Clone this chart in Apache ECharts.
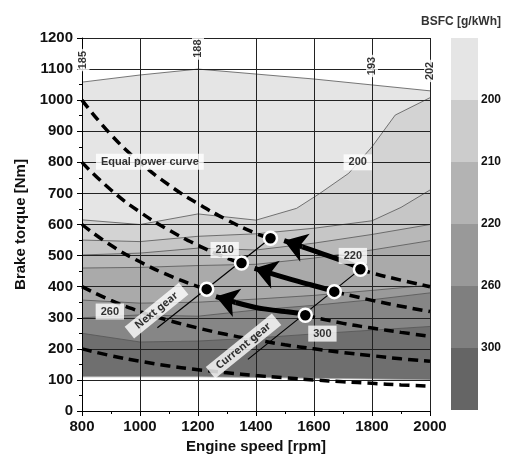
<!DOCTYPE html>
<html>
<head>
<meta charset="utf-8">
<script src="https://cdn.jsdelivr.net/npm/echarts@6/dist/echarts.min.js"></script>
<style>
  html, body { margin: 0; padding: 0; background: #fff; }
  #chart { width: 508px; height: 457px; }
</style>
</head>
<body>
<div id="chart"></div>
<script>
// contour edges of the BSFC map, [rpm, Nm]
const edgeFullLoad = [[800, 1058], [1000, 1081], [1200, 1100], [1400, 1084], [1600, 1068], [1800, 1049], [2000, 1030]];
const edge200 = [[800, 615], [1000, 600], [1200, 634], [1400, 614], [1540, 652], [1620, 700], [1720, 765], [1800, 850], [1880, 952], [2000, 1008]];
const edge205 = [[800, 550], [1000, 545], [1200, 562], [1400, 570], [1600, 588], [1800, 612], [1900, 655], [2000, 711]];
const edge210 = [[800, 502], [1000, 508], [1200, 524], [1400, 518], [1600, 540], [1800, 568], [2000, 600]];
const edge220 = [[800, 460], [1000, 462], [1200, 468], [1400, 472], [1600, 492], [1800, 518], [2000, 548]];
const edge240 = [[800, 357], [1000, 347], [1200, 350], [1400, 360], [1600, 372], [1800, 388], [2000, 405]];
const edge260 = [[800, 300], [1000, 309], [1200, 305], [1400, 325], [1600, 340], [1800, 358], [2000, 380]];
const edge300 = [[800, 250], [1000, 222], [1200, 225], [1400, 235], [1600, 248], [1800, 260], [2000, 272]];
const edgeBottom = [[800, 110], [1000, 110], [1200, 110], [1400, 108], [1600, 105], [1800, 103], [2000, 100]];
const fillColors = ["#e5e5e5", "#d3d3d3", "#c6c6c6", "#b8b8b8", "#aaaaaa", "#9a9a9a", "#868686", "#6f6f6f", "#ffffff"];

// equal power curves (dashed), split where the shift arrows run
const power1000Low = [[800, 1000], [900, 889], [1000, 800], [1100, 727], [1200, 667], [1300, 615], [1400, 571], [1450, 556]];
const power1000High = [[1760, 456], [1800, 444], [1900, 421], [2000, 400]];
const power800Low = [[800, 800], [900, 711], [1000, 640], [1100, 582], [1200, 533], [1300, 492], [1350, 476]];
const power800High = [[1670, 384], [1800, 356], [1900, 337], [2000, 320]];
const power600Low = [[800, 600], [900, 533], [1000, 480], [1100, 436], [1200, 400], [1230, 392]];
const power600High = [[1570, 308], [1700, 282], [1800, 267], [1900, 253], [2000, 240]];
const power400 = [[800, 400], [900, 356], [1000, 320], [1100, 291], [1200, 267], [1300, 246], [1400, 229], [1500, 213], [1600, 200], [1700, 188], [1800, 178], [1900, 168], [2000, 160]];
const power200 = [[800, 200], [900, 178], [1000, 160], [1100, 145], [1200, 133], [1300, 123], [1400, 114], [1500, 107], [1600, 100], [1700, 94], [1800, 89], [1900, 84], [2000, 80]];

// gear lines and operating points
const nextGearLine = [[1060, 268], [1455, 560]];
const currentGearLine = [[1372, 166], [1762, 458]];
const shiftPoints = [[1230, 392], [1350, 476], [1450, 556], [1570, 308], [1670, 384], [1760, 456]];

// shift arrows (body + last point = tip)
const arrowTop = [[1760, 460], [1690, 486], [1620, 509], [1560, 528], [1497, 548]];
const arrowMid = [[1670, 386], [1620, 398], [1573, 410], [1500, 429], [1440, 446], [1395, 459]];
const arrowLow = [[1570, 312], [1500, 320], [1440, 327], [1395, 334], [1330, 349], [1262, 368]];

const boxLabels = [
  { name: "Equal power curve", value: [1034, 802] },
  { name: "200", value: [1751, 800] },
  { name: "210", value: [1292, 518] },
  { name: "220", value: [1734, 499] },
  { name: "260", value: [896, 320] },
  { name: "300", value: [1629, 249] },
];
const gearLabels = [
  { name: "Next gear", value: [1057, 323] },
  { name: "Current gear", value: [1357, 209] },
];
const edgeLabels = [
  { name: "185", value: [805, 1129] },
  { name: "188", value: [1200, 1166] },
  { name: "193", value: [1800, 1110] },
  { name: "202", value: [2000, 1094] },
];

// colour bar
const legendColors = ["#656565", "#7f7f7f", "#999999", "#b3b3b3", "#cccccc", "#e5e5e5"];
const legendTicks = ["", "300", "260", "220", "210", "200", ""];

const FONT = "Liberation Sans, Arial, sans-serif";
const edges = [edgeFullLoad, edge200, edge205, edge210, edge220, edge240, edge260, edge300, edgeBottom];

const fillSeries = edges.map((e, i) => ({
  type: "line",
  data: e,
  showSymbol: false,
  silent: true,
  z: 1,
  lineStyle: { color: i === edges.length - 1 ? "#aaa" : "#555", width: 0.8 },
  areaStyle: { color: fillColors[i], opacity: 1, origin: "start" },
}));

const dashed = [power1000Low, power1000High, power800Low, power800High, power600Low, power600High, power400, power200].map((d) => ({
  type: "line",
  data: d,
  smooth: true,
  showSymbol: false,
  z: 6,
  lineStyle: { color: "#000", width: 3.5, type: [10, 6] },
}));

const gearSeries = [nextGearLine, currentGearLine].map((d) => ({
  type: "line",
  data: d,
  showSymbol: false,
  z: 6,
  lineStyle: { color: "#000", width: 1.2 },
}));

const arrowBodies = [arrowTop, arrowMid, arrowLow].map((d) => ({
  type: "line",
  data: d.slice(0, -1),
  smooth: true,
  showSymbol: false,
  z: 7,
  lineStyle: { color: "#000", width: 5 },
}));

const arrowHeads = {
  type: "lines",
  coordinateSystem: "cartesian2d",
  z: 7,
  symbol: ["none", "arrow"],
  symbolSize: 22,
  lineStyle: { color: "#000", width: 5, opacity: 1 },
  data: [arrowTop, arrowMid, arrowLow].map((d) => ({ coords: d.slice(-2) })),
};

const chart = echarts.init(document.getElementById("chart"), null, { renderer: "canvas" });

chart.setOption({
  animation: false,
  backgroundColor: "#fff",
  textStyle: { fontFamily: FONT },
  title: {
    text: "BSFC [g/kWh]",
    right: 2,
    top: 11,
    textStyle: { fontSize: 12, fontWeight: "bold", color: "#333", fontFamily: FONT },
  },
  grid: [
    { left: 82, right: 78, top: 38, bottom: 46, containLabel: false, outerBoundsMode: "none" },
    { left: 451, width: 27, top: 38, height: 372, containLabel: false, outerBoundsMode: "none" },
  ],
  xAxis: [
    {
      type: "value",
      min: 800,
      max: 2000,
      interval: 200,
      z: 3,
      name: "Engine speed [rpm]",
      nameLocation: "middle",
      nameGap: 27,
      nameTextStyle: { fontSize: 15, fontWeight: "bold", color: "#111" },
      axisLine: { lineStyle: { color: "#000" } },
      axisTick: { length: 5, lineStyle: { color: "#000" } },
      minorTick: { show: true, splitNumber: 2, length: 3, lineStyle: { color: "#000" } },
      axisLabel: { fontSize: 15, fontWeight: "bold", color: "#111", margin: 8, formatter: (v) => String(v) },
      splitLine: { lineStyle: { color: "#222", width: 1 } },
    },
    { type: "category", gridIndex: 1, data: [""], show: false },
  ],
  yAxis: [
    {
      type: "value",
      min: 0,
      max: 1200,
      interval: 100,
      z: 3,
      name: "Brake torque [Nm]",
      nameLocation: "middle",
      nameGap: 50,
      nameTextStyle: { fontSize: 15, fontWeight: "bold", color: "#111" },
      axisLine: { show: true, lineStyle: { color: "#000" } },
      axisTick: { show: true, length: 5, lineStyle: { color: "#000" } },
      minorTick: { show: true, splitNumber: 2, length: 3, lineStyle: { color: "#000" } },
      axisLabel: { fontSize: 15, fontWeight: "bold", color: "#111", margin: 9, formatter: (v) => String(v) },
      splitLine: { lineStyle: { color: "#222", width: 1 } },
    },
    {
      type: "value",
      gridIndex: 1,
      min: 0,
      max: 6,
      interval: 1,
      position: "right",
      axisLine: { show: false },
      axisTick: { show: false },
      splitLine: { show: false },
      axisLabel: {
        margin: 3,
        fontSize: 12,
        fontWeight: "bold",
        color: "#111",
        formatter: (v) => legendTicks[v] || "",
      },
    },
  ],
  series: [
    ...fillSeries,
    ...dashed,
    ...gearSeries,
    ...arrowBodies,
    arrowHeads,
    {
      type: "scatter",
      data: shiftPoints,
      symbolSize: 13,
      z: 8,
      itemStyle: { color: "#000", borderColor: "#fff", borderWidth: 2.5, opacity: 1 },
    },
    {
      type: "scatter",
      data: boxLabels,
      symbolSize: 0,
      z: 9,
      label: {
        show: true,
        position: "inside",
        formatter: "{b}",
        color: "#000",
        fontSize: 11,
        fontWeight: "bold",
        backgroundColor: "#fff",
        padding: [3, 5, 2, 5],
      },
    },
    {
      type: "scatter",
      data: gearLabels,
      symbolSize: 0,
      z: 9,
      label: {
        show: true,
        position: "inside",
        formatter: "{b}",
        rotate: 39,
        color: "#000",
        fontSize: 10.5,
        fontWeight: "bold",
        fontFamily: "Noto Sans, sans-serif",
        backgroundColor: "#fff",
        padding: [2, 9, 2, 9],
      },
    },
    {
      type: "scatter",
      data: edgeLabels,
      symbolSize: 0,
      z: 9,
      label: {
        show: true,
        position: "inside",
        formatter: "{b}",
        rotate: 90,
        color: "#000",
        fontSize: 11,
        fontWeight: "bold",
        backgroundColor: "#fff",
        padding: [1, 2, 0, 2],
      },
    },
    ...legendColors.map((c) => ({
      type: "bar",
      xAxisIndex: 1,
      yAxisIndex: 1,
      stack: "bsfc",
      barWidth: "100%",
      data: [1],
      itemStyle: { color: c },
    })),
  ],
});
</script>
</body>
</html>
